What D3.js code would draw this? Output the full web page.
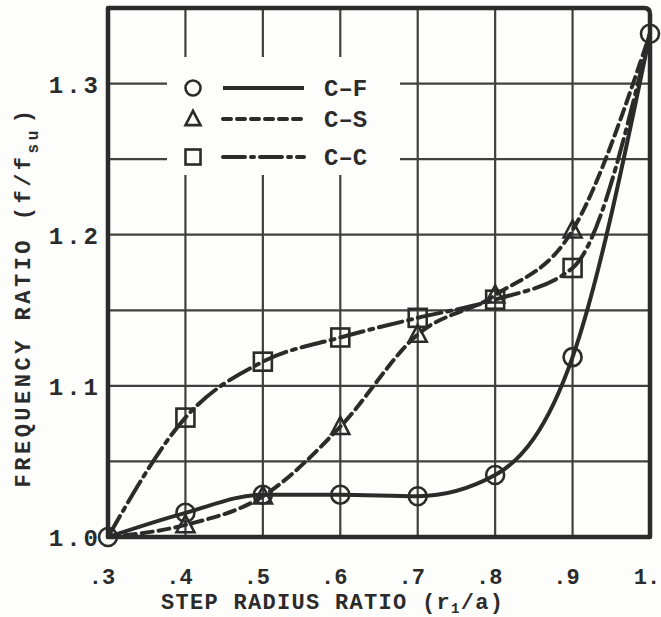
<!DOCTYPE html>
<html>
<head>
<meta charset="utf-8">
<script src="https://cdn.jsdelivr.net/npm/d3@7"></script>
<style>
  html, body { margin: 0; padding: 0; background: #fdfdfc; }
  svg { display: block; }
  text { font-family: "Liberation Mono", "DejaVu Sans Mono", monospace; font-weight: bold; fill: #2b2b2b; }
</style>
</head>
<body>
<svg id="chart" width="661" height="617"></svg>
<script>
// Step radius ratio r1/a
const radiusRatio = [0.3, 0.4, 0.5, 0.6, 0.7, 0.8, 0.9, 1.0];
// Frequency ratio f/f_su for each edge condition
const freqCF = [1.000, 1.016, 1.028, 1.028, 1.027, 1.041, 1.119, 1.333];
const freqCS = [1.000, 1.008, 1.027, 1.073, 1.134, 1.160, 1.203, 1.333];
const freqCC = [1.000, 1.079, 1.116, 1.132, 1.145, 1.157, 1.178, 1.333];

const xTickValues = [0.3, 0.4, 0.5, 0.6, 0.7, 0.8, 0.9, 1.0];
const xTickLabels = [".3", ".4", ".5", ".6", ".7", ".8", ".9", "1."];
const yTickValues = [1.0, 1.1, 1.2, 1.3];
const yTickLabels = ["1.0", "1.1", "1.2", "1.3"];
const yGridValues = [1.05, 1.1, 1.15, 1.2, 1.25, 1.3];

const seriesNames = ["C-F", "C-S", "C-C"];

const ink = "#2b2b2b";
const svg = d3.select("#chart");

const x = d3.scaleLinear().domain([0.3, 1.0]).range([108, 650]);
const y = d3.scaleLinear().domain([1.0, 1.35]).range([537, 8]);

// grid
const grid = svg.append("g").attr("stroke", "#404040").attr("stroke-width", 2.2);
grid.selectAll("line.v").data(xTickValues.slice(1, -1)).join("line")
  .attr("x1", d => x(d)).attr("x2", d => x(d))
  .attr("y1", y(1.0)).attr("y2", y(1.35));
grid.selectAll("line.h").data(yGridValues).join("line")
  .attr("x1", x(0.3)).attr("x2", x(1.0))
  .attr("y1", d => y(d)).attr("y2", d => y(d));

// frame
svg.append("path")
  .attr("d", `M${x(0.3)},${y(1.0)} V${y(1.35)} H${x(1.0) - 6} Q${x(1.0)},${y(1.35)} ${x(1.0)},${y(1.35) + 6} V${y(1.0)} Z`)
  .attr("fill", "none").attr("stroke", ink).attr("stroke-width", 4.5)
  .attr("stroke-linejoin", "round");

// legend panel blanks the grid beneath it
svg.append("rect").attr("x", 167).attr("y", 57).attr("width", 233).attr("height", 118)
  .attr("fill", "#fdfdfc");

// curves
const series = [
  { name: seriesNames[0], values: freqCF, dash: null, marker: "circle", marks: radiusRatio.map((_, i) => i) },
  { name: seriesNames[1], values: freqCS, dash: "11,6", marker: "triangle", marks: [1, 2, 3, 4, 5, 6] },
  { name: seriesNames[2], values: freqCC, dash: "24,6,4,6", marker: "square", marks: [1, 2, 3, 4, 5, 6] }
];

const line = d3.line()
  .x(d => x(d[0])).y(d => y(d[1]))
  .curve(d3.curveMonotoneX);

series.forEach(s => {
  const pts = radiusRatio.map((r, i) => [r, s.values[i]]);
  svg.append("path")
    .attr("d", line(pts))
    .attr("fill", "none").attr("stroke", ink).attr("stroke-width", 4)
    .attr("stroke-linecap", s.dash ? "round" : "butt")
    .attr("stroke-dasharray", s.dash);
});

function drawMarker(g, type, cx, cy, size) {
  if (type === "circle") {
    g.append("circle").attr("cx", cx).attr("cy", cy).attr("r", size / 2);
  } else if (type === "square") {
    g.append("rect").attr("x", cx - size / 2).attr("y", cy - size / 2)
      .attr("width", size).attr("height", size);
  } else {
    const h = size * 0.9;
    g.append("path").attr("d",
      `M${cx},${cy - h * 0.6} L${cx + size / 2},${cy + h * 0.45} L${cx - size / 2},${cy + h * 0.45} Z`);
  }
}

const markers = svg.append("g").attr("fill", "none").attr("stroke", ink).attr("stroke-width", 2.6);
series.forEach(s => {
  s.marks.forEach(i => drawMarker(markers, s.marker, x(radiusRatio[i]), y(s.values[i]), 18));
});

// legend
const legendRows = [88, 119, 157];
const legend = svg.append("g");
series.forEach((s, k) => {
  const cy = legendRows[k];
  const g = legend.append("g").attr("fill", "none").attr("stroke", ink).attr("stroke-width", 2.6);
  drawMarker(g, s.marker, 193, cy, 15);
  legend.append("line")
    .attr("x1", 223).attr("x2", 304).attr("y1", cy).attr("y2", cy)
    .attr("stroke", ink).attr("stroke-width", 4)
    .attr("stroke-linecap", s.dash ? "round" : "butt")
    .attr("stroke-dasharray", s.dash ? (k === 1 ? "8,6" : "22,6,3,6") : null);
  legend.append("text")
    .attr("x", 324).attr("y", cy + 8)
    .attr("font-size", 24)
    .text(s.name.replace("-", "\u2013"));
});

// x tick labels
svg.append("g").selectAll("text").data(xTickValues).join("text")
  .attr("x", (d, i) => xTickLabels[i] === "1." ? x(d) - 3 : x(d) - 6)
  .attr("y", 584)
  .attr("text-anchor", "middle")
  .attr("font-size", 22)
  .text((d, i) => xTickLabels[i]);

// y tick labels
svg.append("g").selectAll("text").data(yTickValues).join("text")
  .attr("x", 101)
  .attr("y", d => y(d) + 9)
  .attr("text-anchor", "end")
  .attr("font-size", 24)
  .attr("letter-spacing", 3)
  .text((d, i) => yTickLabels[i]);

// axis titles
const xTitle = svg.append("text")
  .attr("x", 161).attr("y", 609)
  .attr("font-size", 22)
  .attr("letter-spacing", 1.3);
xTitle.append("tspan").text("STEP RADIUS RATIO (r");
xTitle.append("tspan").attr("font-size", 14).attr("dy", 4).text("1");
xTitle.append("tspan").attr("dy", -4).text("/a)");

const yTitle = svg.append("text")
  .attr("transform", "translate(30,297) rotate(-90)")
  .attr("text-anchor", "middle")
  .attr("font-size", 22)
  .attr("letter-spacing", 3.5);
yTitle.append("tspan").text("FREQUENCY RATIO (f/f");
yTitle.append("tspan").attr("font-size", 16).attr("dy", 8).text("su");
yTitle.append("tspan").attr("dy", -8).attr("dx", 4).text(")");
</script>
</body>
</html>
